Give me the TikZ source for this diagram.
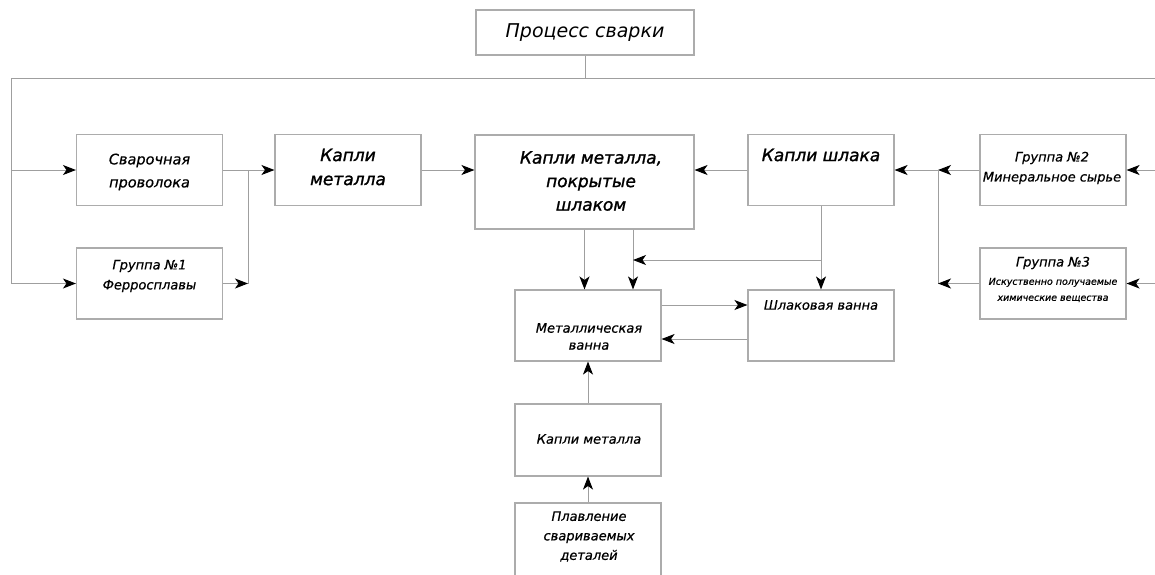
\documentclass[tikz,border=0pt]{standalone}
\usepackage{fontspec}
\setmainfont{DejaVu Sans}
\newfontfamily\gostA[FakeBold=0.6]{DejaVu Sans}
\newfontfamily\gostB[FakeBold=1.3]{DejaVu Sans}
\usetikzlibrary{arrows.meta}
\begin{document}
\begin{tikzpicture}[x=1pt,y=-1pt,
  box/.style={draw=gray!65, line width=1.1pt, inner sep=0pt, minimum width=146pt, minimum height=71pt},
  txt/.style={align=center, inner sep=0pt},
  ln/.style={draw=gray!75, line width=1pt},
  arr/.style={ln, -{Stealth[length=13pt,width=10pt,inset=3.5pt,color=black]}}]
\useasboundingbox[fill=white] (0,0) rectangle (1155,574);
% boxes
\node[box, minimum width=218pt, minimum height=45pt] (proc) at (585,32.5) {};
\node[box] (wire) at (149.5,170) {};
\node[box] (g1) at (149.5,283.5) {};
\node[box] (drA) at (348,170) {};
\node[box, minimum width=219pt, minimum height=94pt] (coat) at (584.5,182) {};
\node[box] (sld) at (821,170) {};
\node[box] (g2) at (1053,170) {};
\node[box] (g3) at (1053,283.5) {};
\node[box] (mb) at (588,325.5) {};
\node[box] (sb) at (821,325.5) {};
\node[box, minimum height=72pt] (drB) at (588,440) {};
\node[box, minimum height=75pt] (melt) at (588,540.5) {};
% texts
\node[txt, font=\itshape\fontsize{19}{24}\selectfont] (procT) at (585,33) {Процесс сварки};
\node[txt, font=\gostA\itshape\fontsize{14.5}{23}\selectfont] (wireT) at (149.5,172) {Сварочная\\проволока};
\node[txt, font=\gostA\itshape\fontsize{13}{20}\selectfont] (g1T) at (149.5,276) {Группа №1\\Ферросплавы};
\node[txt, font=\gostB\itshape\fontsize{17}{24}\selectfont] (drAT) at (348,167) {Капли\\металла};
\node[txt, font=\gostB\itshape\fontsize{17}{23.5}\selectfont] (coatT) at (591,181) {Капли металла,\\покрытые\\шлаком};
\node[txt, font=\gostB\itshape\fontsize{17}{24}\selectfont] (sldT) at (821,155) {Капли шлака};
\node[txt, font=\gostA\itshape\fontsize{13}{20}\selectfont] (g2T) at (1052,168) {Группа №2\\Минеральное сырье};
\node[txt, font=\gostA\itshape\fontsize{13}{20}\selectfont] (g3T) at (1053,263) {Группа №3};
\node[txt, font=\gostA\itshape\fontsize{9.5}{16}\selectfont] (g3U) at (1053,290) {Искуственно получаемые\\химические вещества};
\node[txt, font=\gostA\itshape\fontsize{13}{17}\selectfont] (mbT) at (589,336.5) {Металлическая\\ванна};
\node[txt, font=\gostA\itshape\fontsize{13}{17}\selectfont] (sbT) at (821,305) {Шлаковая ванна};
\node[txt, font=\gostA\itshape\fontsize{13}{17}\selectfont] (drBT) at (589,439) {Капли металла};
\node[txt, font=\gostA\itshape\fontsize{13}{19.5}\selectfont] (meltT) at (589,536.5) {Плавление\\свариваемых\\деталей};
% coordinates
\coordinate (top) at (585,78);
\coordinate (L) at (11,78);
\coordinate (R) at (1157,78);
\coordinate (L1) at (11,170);
\coordinate (L2) at (11,283.5);
\coordinate (R1) at (1157,170);
\coordinate (R2) at (1157,283.5);
\coordinate (J1) at (248,170);
\coordinate (J2) at (248,283.5);
\coordinate (K1) at (938,170);
\coordinate (K2) at (938,283.5);
\coordinate (B) at (633,260);
\coordinate (S) at (821,260);
% connectors
\draw[ln] (proc.south) -- (top);
\draw[ln] (L2) -- (L) -- (R) -- (R2);
\draw[arr] (L1) -- (wire.west);
\draw[arr] (L2) -- (g1.west);
\draw[ln] (wire.east) -- (J1) -- (J2);
\draw[arr] (J1) -- (drA.west);
\draw[arr] (g1.east) -- (J2);
\draw[arr] (drA.east) -- (drA.east -| coat.west);
\draw[arr] (sld.west) -- (sld.west -| coat.east);
\draw[arr] (g2.west) -- (K1);
\draw[arr] (K1) -- (sld.east);
\draw[ln] (K1) -- (K2);
\draw[arr] (g3.west) -- (K2);
\draw[arr] (R1) -- (g2.east);
\draw[arr] (R2) -- (g3.east);
\draw[arr] (coat.south) -- (coat.south |- mb.north);
\draw[arr] (coat.south -| B) -- (B |- mb.north);
\draw[arr] (sld.south) -- (sld.south |- sb.north);
\draw[arr] (S) -- (B);
\draw[arr] ([yshift=20.5pt]mb.east) -- ([yshift=20.5pt]mb.east -| sb.west);
\draw[arr] ([yshift=-13.5pt]sb.west) -- ([yshift=-13.5pt]sb.west -| mb.east);
\draw[arr] (drB.north) -- (mb.south);
\draw[arr] (melt.north) -- (drB.south);
\end{tikzpicture}
\end{document}
